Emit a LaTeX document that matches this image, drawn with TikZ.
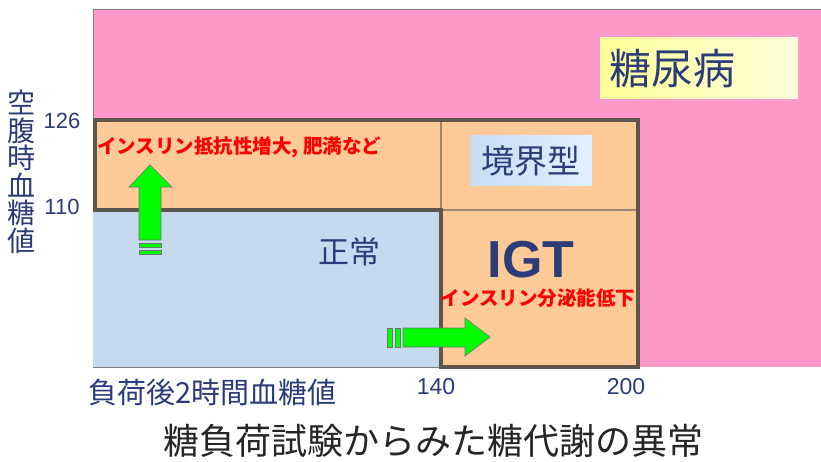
\documentclass[tikz,border=0pt]{standalone}
\usepackage{fontspec}
\setmainfont{Liberation Sans}
\newfontfamily\jp{Noto Sans CJK JP}
\definecolor{pinkbg}{HTML}{FC99C9}
\definecolor{orangebg}{HTML}{FDCA98}
\definecolor{bluebg}{HTML}{C6DAEF}
\definecolor{border}{HTML}{5E554D}
\definecolor{thinline}{HTML}{9A8670}
\definecolor{navy}{HTML}{2C3C78}
\definecolor{redtxt}{HTML}{FF0000}
\definecolor{greenar}{HTML}{00FF00}
\definecolor{yel1}{HTML}{FFFF99}
\definecolor{yel2}{HTML}{FFFFDD}
\definecolor{lb1}{HTML}{C8DDF3}
\definecolor{lb2}{HTML}{E2F0FF}
\tikzset{
  fs/.style={font={\fontsize{#1}{#1}\selectfont}},
  jplabel/.style={inner sep=0pt, text=navy},
  redlabel/.style={inner sep=0pt, text=redtxt, font={\jp\bfseries\fontsize{19.5}{19.5}\selectfont}},
  arrowshape/.style={fill=greenar, draw=black!55, line width=0.6pt},
  thickborder/.style={draw=border, line width=4pt, line join=miter},
  thin/.style={draw=thinline, line width=1.2pt},
}
\begin{document}
\begin{tikzpicture}[x=1pt,y=-1pt]
\useasboundingbox (0,0) rectangle (821,461);
\fill[white] (0,0) rectangle (821,461);
% regions
\fill[pinkbg] (93,9) rectangle (821,367);
\draw[gray, line width=1pt] (93,9) -- (821,9);
\draw[gray, line width=1pt] (93,9) -- (93,367);
\fill[bluebg] (93,210) rectangle (441,367);
\draw[gray, line width=1pt] (93,367) -- (441,367);
\fill[orangebg] (95,120) -- (638,120) -- (638,367) -- (441,367) -- (441,210) -- (95,210) -- cycle;
\draw[thin] (441,120) -- (441,210) -- (638,210);
\draw[thickborder] (95,120) -- (638,120) -- (638,367) -- (441,367) -- (441,210) -- (95,210) -- cycle;

% title boxes
\node[jplabel, minimum width=198pt, minimum height=61pt, left color=yel1, right color=yel2, anchor=north west] (dmbox) at (600,37) {};
\node[jplabel, anchor=west, font={\jp\fontsize{42}{42}\selectfont}] (dm) at (609,69) {糖尿病};
\node[jplabel, minimum width=122pt, minimum height=50pt, left color=lb1, right color=lb2, anchor=north west] (bbox) at (470,135) {};
\node[jplabel, font={\jp\fontsize{33}{33}\selectfont}] (border) at (531,161) {境界型};
\node[jplabel, font={\jp\fontsize{31}{31}\selectfont}] (normal) at (349,252) {正常};
\node[jplabel, font={\bfseries\fontsize{52}{52}\selectfont}] (igt) at (531,260) {IGT};
\node[redlabel] (secr) at (538,298) {インスリン分泌能低下};
\node[redlabel, anchor=west] (resist) at (97,147) {インスリン抵抗性増大, 肥満など};

% axis labels
\node[jplabel, align=center, font={\jp\fontsize{28}{27.5}\selectfont}] (ylab) at (22,172) {空\\腹\\時\\血\\糖\\値};
\node[jplabel, fs=22] (t126) at (62,121) {126};
\node[jplabel, fs=22] (t110) at (62,207) {110};
\node[jplabel, anchor=west, font={\jp\fontsize{29}{29}\selectfont}] (xlab) at (88,393) {負荷後2時間血糖値};
\node[jplabel, fs=23] (t140) at (436,387) {140};
\node[jplabel, fs=23] (t200) at (626,387) {200};
\node[inner sep=0pt, text=black!85, font={\jp\fontsize{36}{36}\selectfont}] (cap) at (433,441) {糖負荷試験からみた糖代謝の異常};

% green up arrow
\draw[arrowshape] (139,240) -- (139,187) -- (129,187) -- (150,165) -- (172,187) -- (161,187) -- (161,240) -- cycle;
\draw[arrowshape] (139,243) rectangle (161,247);
\draw[arrowshape] (139,250) rectangle (161,254);
% green right arrow
\draw[arrowshape] (403,328) -- (465,328) -- (465,318) -- (490,337) -- (465,356) -- (465,347) -- (403,347) -- cycle;
\draw[arrowshape] (387,328) rectangle (392,347);
\draw[arrowshape] (395,328) rectangle (400,347);
\end{tikzpicture}
\end{document}
